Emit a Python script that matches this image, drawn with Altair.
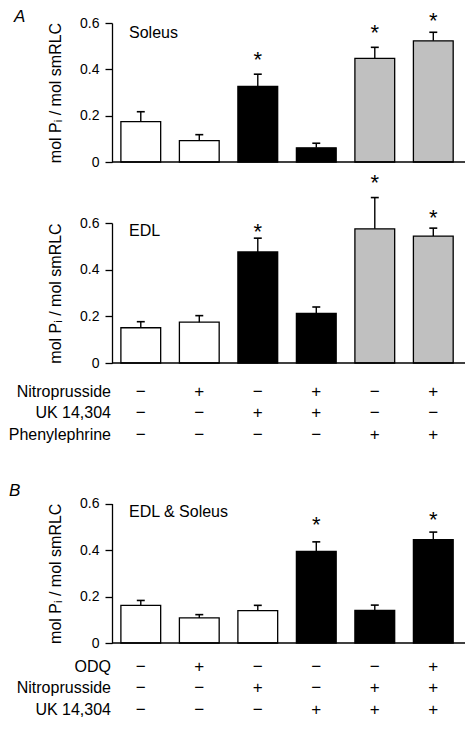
import altair as alt
import pandas as pd

# ---------------- data ----------------
POSITIONS = [0, 1, 2, 3, 4, 5]

SOLEUS_MEAN = [0.174, 0.092, 0.326, 0.061, 0.447, 0.523]
SOLEUS_ERR = [0.217, 0.118, 0.379, 0.081, 0.495, 0.560]
SOLEUS_FILL = ["white", "white", "black", "black", "#c0c0c0", "#c0c0c0"]
SOLEUS_STAR_POS = [2, 4, 5]
SOLEUS_STAR_Y = [0.46, 0.579, 0.63]

EDL_MEAN = [0.151, 0.175, 0.476, 0.213, 0.575, 0.544]
EDL_ERR = [0.177, 0.203, 0.535, 0.240, 0.709, 0.578]
EDL_FILL = ["white", "white", "black", "black", "#c0c0c0", "#c0c0c0"]
EDL_STAR_POS = [2, 4, 5]
EDL_STAR_Y = [0.582, 0.792, 0.645]

B_MEAN = [0.162, 0.108, 0.139, 0.394, 0.140, 0.444]
B_ERR = [0.183, 0.122, 0.162, 0.435, 0.163, 0.477]
B_FILL = ["white", "white", "white", "black", "black", "black"]
B_STAR_POS = [3, 5]
B_STAR_Y = [0.528, 0.549]

TABLE_A_LABELS = ["Nitroprusside", "UK 14,304", "Phenylephrine"]
TABLE_A_SIGNS = [
    ["−", "+", "−", "+", "−", "+"],
    ["−", "−", "+", "+", "−", "−"],
    ["−", "−", "−", "−", "+", "+"],
]
TABLE_B_LABELS = ["ODQ", "Nitroprusside", "UK 14,304"]
TABLE_B_SIGNS = [
    ["−", "+", "−", "−", "−", "+"],
    ["−", "−", "+", "−", "+", "+"],
    ["−", "−", "−", "+", "+", "+"],
]

Y_TICKS = [0, 0.2, 0.4, 0.6]
Y_TITLE = "mol Pᵢ / mol smRLC"

# ---------------- layout / style ----------------
FONT = "Liberation Sans"
XMIN, XMAX = -0.492, 5.542
HALF = 0.34
CAP = 0.068
W, H = 353, 709

xsc = alt.Scale(domain=[XMIN, XMAX], nice=False, zero=False)


def X(field):
    return alt.X(f"{field}:Q", scale=xsc, axis=None)


def panel(means, errs, fills, star_pos, star_y, y_range, name, name_dy,
          letter, letter_dx, letter_dy):
    ysc = alt.Scale(domain=[0, 0.6], range=y_range, nice=False, zero=False)
    yax = alt.Axis(values=Y_TICKS, orient="left", title=Y_TITLE,
                   labelExpr="datum.value === 0 ? '0' : format(datum.value, '.1f')")

    def Y(field):
        return alt.Y(f"{field}:Q", scale=ysc, axis=yax)

    df = pd.DataFrame({"pos": POSITIONS, "mean": means, "err": errs,
                       "fill": fills, "zero": [0.0] * len(POSITIONS)})
    df["left"] = df["pos"] - HALF
    df["right"] = df["pos"] + HALF
    df["cl"] = df["pos"] - CAP
    df["cr"] = df["pos"] + CAP

    bars = alt.Chart(df).mark_rect(stroke="black", strokeWidth=1.3).encode(
        x=X("left"), x2="right", y=Y("mean"), y2="zero",
        fill=alt.Fill("fill:N", scale=None))
    err = alt.Chart(df).mark_rule(color="black", strokeWidth=1.4).encode(
        x=X("pos"), y=Y("mean"), y2="err")
    cap = alt.Chart(df).mark_rule(color="black", strokeWidth=1.6).encode(
        x=X("cl"), x2="cr", y=Y("err"))

    base_df = pd.DataFrame({"a": [XMIN], "b": [XMAX], "zero": [0.0]})
    base = alt.Chart(base_df).mark_rule(color="black", strokeWidth=1.3).encode(
        x=X("a"), x2="b", y=Y("zero"))

    star_df = pd.DataFrame({"pos": star_pos, "sy": star_y})
    stars = alt.Chart(star_df).mark_text(
        text="*", font=FONT, fontSize=22, baseline="middle", dy=5,
        color="black").encode(x=X("pos"), y=Y("sy"))

    lab_df = pd.DataFrame({"lx": [XMIN], "ly": [0.6], "t": [name]})
    lab = alt.Chart(lab_df).mark_text(
        font=FONT, fontSize=16, align="left", baseline="alphabetic",
        dx=17, dy=name_dy, color="black").encode(
        x=X("lx"), y=Y("ly"), text="t:N")

    let_df = pd.DataFrame({"lx": [XMIN], "ly": [0.6], "t": [letter]})
    let = alt.Chart(let_df).mark_text(
        font=FONT, fontSize=17, fontStyle="italic", align="left",
        baseline="alphabetic", dx=letter_dx, dy=letter_dy,
        color="black").encode(x=X("lx"), y=Y("ly"), text="t:N")

    layers = [bars, err, cap, base, stars, lab]
    if letter:
        layers.append(let)
    return alt.layer(*layers)


def table(labels, signs, y_range):
    ysc = alt.Scale(domain=[0, len(labels) - 1], range=y_range, nice=False, zero=False)
    rows = []
    for r, (lab, row) in enumerate(zip(labels, signs)):
        for p, s in zip(POSITIONS, row):
            rows.append({"row": r, "pos": p, "s": s})
    sdf = pd.DataFrame(rows)
    ldf = pd.DataFrame({"row": list(range(len(labels))), "lab": labels,
                        "lx": [XMIN] * len(labels)})
    signs_c = alt.Chart(sdf).mark_text(
        font=FONT, fontSize=17, baseline="middle", color="black").encode(
        x=X("pos"), y=alt.Y("row:Q", scale=ysc, axis=None), text="s:N")
    labs_c = alt.Chart(ldf).mark_text(
        font=FONT, fontSize=16, baseline="middle", align="right", dx=-1,
        color="black").encode(
        x=X("lx"), y=alt.Y("row:Q", scale=ysc, axis=None), text="lab:N")
    return alt.layer(signs_c, labs_c)


soleus = panel(SOLEUS_MEAN, SOLEUS_ERR, SOLEUS_FILL, SOLEUS_STAR_POS, SOLEUS_STAR_Y,
               [154, 15], "Soleus", 15, "A", -98, -1)
edl = panel(EDL_MEAN, EDL_ERR, EDL_FILL, EDL_STAR_POS, EDL_STAR_Y,
            [355, 215], "EDL", 13, "", 0, 0)
tab_a = table(TABLE_A_LABELS, TABLE_A_SIGNS, [384, 426.5])
bpan = panel(B_MEAN, B_ERR, B_FILL, B_STAR_POS, B_STAR_Y,
             [635, 495.5], "EDL & Soleus", 13, "B", -103, -8)
tab_b = table(TABLE_B_LABELS, TABLE_B_SIGNS, [659, 701.5])

chart = alt.layer(soleus, edl, tab_a, bpan, tab_b).resolve_scale(
    y="independent"
).properties(
    width=W, height=H,
    autosize=alt.AutoSizeParams(type="none"),
    padding={"left": 104, "top": 0, "right": 0, "bottom": 0},
).configure_view(strokeWidth=0).configure_axis(
    grid=False, domainColor="black", domainWidth=1.3, tickColor="black",
    tickWidth=1.3, tickSize=7, labelPadding=6, labelFont=FONT, labelFontSize=14,
    labelColor="black", titleFont=FONT, titleFontSize=16, titleFontWeight="normal",
    titleColor="black", titlePadding=16,
)

chart.save("out.html", embed_options={"renderer": "svg", "actions": False})
